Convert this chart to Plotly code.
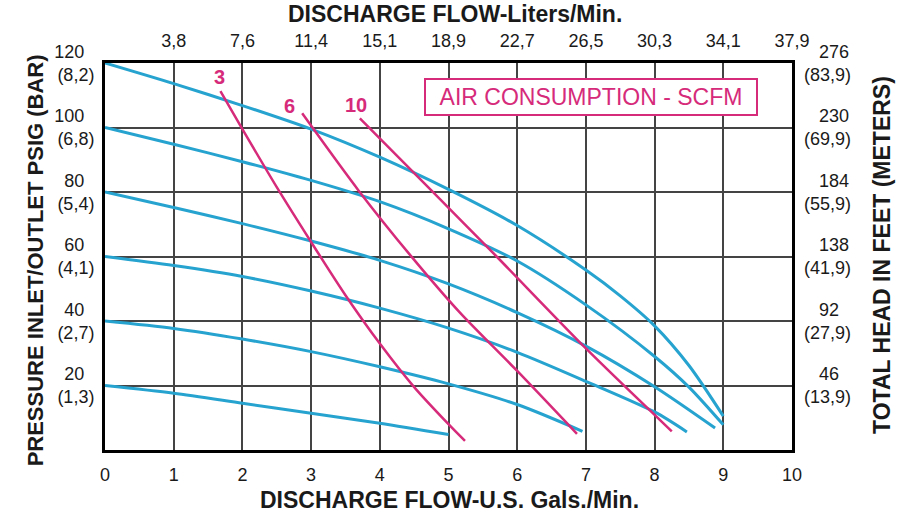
import plotly.graph_objects as go

# pump curves by inlet air pressure (psig): flow in US gal/min vs outlet pressure psig
curve_120_x = [0, 1, 2, 3, 4, 5, 6, 7, 7.5, 8, 8.5, 9.0]
curve_120_y = [120, 113.6, 106.8, 99.5, 90.8, 80.8, 69.6, 55.8, 47.8, 38.5, 26.2, 10.5]
curve_100_x = [0, 1, 2, 3, 4, 5, 6, 7, 8, 8.5, 9.0]
curve_100_y = [100, 94.8, 89.4, 83.6, 77, 68.6, 58.6, 45, 29, 19.5, 7.8]
curve_80_x = [0, 1, 2, 3, 4, 5, 6, 7, 8, 8.88]
curve_80_y = [80, 75.2, 70.2, 64.8, 58.8, 51.5, 42.6, 32.2, 19.6, 6.8]
curve_60_x = [0, 1, 2, 3, 4, 5, 6, 7, 8, 8.47]
curve_60_y = [60, 57.2, 53.8, 49.3, 44, 37.8, 30.3, 21.3, 11.8, 5.6]
curve_40_x = [0, 1, 2, 3, 4, 5, 6, 6.95]
curve_40_y = [40, 37.7, 34.4, 30.5, 25.8, 20.5, 14.1, 5.8]
curve_20_x = [0, 1, 2, 3, 4, 5.0]
curve_20_y = [20, 17.6, 14.5, 11.4, 8.3, 4.8]

# air consumption lines (SCFM)
scfm_3_x = [1.68, 2.0, 2.5, 3.0, 3.5, 4.0, 4.5, 5.0, 5.24]
scfm_3_y = [111.3, 99.5, 81.5, 64.5, 48, 33, 19.5, 8, 2.8]
scfm_6_x = [2.87, 3.69, 4.44, 5.17, 6.0, 6.87]
scfm_6_y = [104.4, 80.5, 60.5, 42.5, 24.5, 5]
scfm_10_x = [3.71, 4.75, 5.7, 7.0, 8.25]
scfm_10_y = [102.8, 80.5, 60, 31.5, 5.8]

gpm_ticks = [0, 1, 2, 3, 4, 5, 6, 7, 8, 9, 10]
lpm_labels = ["3,8", "7,6", "11,4", "15,1", "18,9", "22,7", "26,5", "30,3", "34,1", "37,9"]
psi_ticks = [20, 40, 60, 80, 100, 120]
bar_labels = ["(1,3)", "(2,7)", "(4,1)", "(5,4)", "(6,8)", "(8,2)"]
feet_labels = ["46", "92", "138", "184", "230", "276"]
meter_labels = ["(13,9)", "(27,9)", "(41,9)", "(55,9)", "(69,9)", "(83,9)"]

BLUE = "#27a3d0"
PINK = "#d62a7a"
GRID = "#444444"
INK = "#1a1a1a"
FONT = "Liberation Sans, Arial, sans-serif"
NB = "\u00a0"

fig = go.Figure()

blue_curves = [
    (curve_20_x, curve_20_y),
    (curve_40_x, curve_40_y),
    (curve_60_x, curve_60_y),
    (curve_80_x, curve_80_y),
    (curve_100_x, curve_100_y),
    (curve_120_x, curve_120_y),
]
for cx, cy in blue_curves:
    fig.add_trace(go.Scatter(
        x=cx, y=cy, mode="lines",
        line=dict(color=BLUE, width=3, shape="spline", smoothing=0.8),
        showlegend=False, hoverinfo="skip",
    ))

for cx, cy in [(scfm_3_x, scfm_3_y), (scfm_6_x, scfm_6_y), (scfm_10_x, scfm_10_y)]:
    fig.add_trace(go.Scatter(
        x=cx, y=cy, mode="lines",
        line=dict(color=PINK, width=2.5, shape="spline", smoothing=0.8),
        showlegend=False, hoverinfo="skip",
    ))

# invisible trace so the top and right axes are drawn
fig.add_trace(go.Scatter(x=[0, 10], y=[0, 120], xaxis="x2", yaxis="y2",
                         mode="markers", marker=dict(opacity=0),
                         showlegend=False, hoverinfo="skip"))

# SCFM line labels
for lx, ly, txt in [(1.67, 115.8, "3"), (2.69, 106.8, "6"), (3.66, 107.0, "10")]:
    fig.add_annotation(x=lx, y=ly, text=f"<b>{txt}</b>", showarrow=False,
                       xanchor="center", yanchor="middle",
                       font=dict(family=FONT, size=20, color=PINK))

fig.add_annotation(
    xref="paper", yref="paper", x=0.708, y=0.911, xanchor="center", yanchor="middle",
    text="AIR CONSUMPTION - SCFM", showarrow=False, width=322,
    font=dict(family=FONT, size=23, color=PINK),
    bordercolor=PINK, borderwidth=2, borderpad=4, bgcolor="white",
)

# axis titles
fig.add_annotation(xref="paper", yref="paper", x=0.509, y=1.0, yshift=49,
                   xanchor="center", yanchor="middle",
                   text="<b>DISCHARGE FLOW-Liters/Min.</b>", showarrow=False,
                   font=dict(family=FONT, size=23, color=INK))
fig.add_annotation(xref="paper", yref="paper", x=0.502, y=0.0, yshift=-50,
                   xanchor="center", yanchor="middle",
                   text="<b>DISCHARGE FLOW-U.S. Gals./Min.</b>", showarrow=False,
                   font=dict(family=FONT, size=23, color=INK))
fig.add_annotation(xref="paper", yref="paper", x=0.0, xshift=-70, y=0.49,
                   xanchor="center", yanchor="middle",
                   text="<b>PRESSURE INLET/OUTLET PSIG (BAR)</b>", showarrow=False,
                   textangle=-90, font=dict(family=FONT, size=22, color=INK))
fig.add_annotation(xref="paper", yref="paper", x=1.0, xshift=90, y=0.504,
                   xanchor="center", yanchor="middle",
                   text="<b>TOTAL HEAD IN FEET (METERS)</b>", showarrow=False,
                   textangle=-90, font=dict(family=FONT, size=23, color=INK))

tick_font = dict(family=FONT, size=18, color=INK)

fig.update_layout(
    width=923, height=513,
    margin=dict(l=105, r=131, t=63, b=63),
    plot_bgcolor="white", paper_bgcolor="white",
    xaxis=dict(
        range=[0, 10], tickvals=gpm_ticks, ticktext=[str(v) for v in gpm_ticks],
        showgrid=True, gridcolor=GRID, gridwidth=2,
        showline=True, linecolor="black", linewidth=3, mirror=True,
        zeroline=False, ticks="", ticklabelstandoff=6, tickfont=tick_font,
        automargin=False,
    ),
    yaxis=dict(
        range=[0, 120], tickvals=psi_ticks,
        ticktext=[f"{p}{NB}{NB}<br>{b}" for p, b in zip(psi_ticks, bar_labels)],
        showgrid=True, gridcolor=GRID, gridwidth=2,
        showline=True, linecolor="black", linewidth=3, mirror=True,
        zeroline=False, ticks="", ticklabelstandoff=4, tickfont=tick_font,
        automargin=False,
    ),
    xaxis2=dict(
        overlaying="x", side="top", range=[0, 10], tickvals=gpm_ticks[1:],
        ticktext=lpm_labels, showgrid=False, zeroline=False, showline=False,
        ticks="", ticklabelstandoff=11, tickfont=tick_font, automargin=False,
    ),
    yaxis2=dict(
        overlaying="y", side="right", range=[0, 120], tickvals=psi_ticks,
        ticktext=[f"{NB}{NB}{NB}{f}<br>{m}" for f, m in zip(feet_labels, meter_labels)],
        showgrid=False, zeroline=False, showline=False,
        ticks="", ticklabelstandoff=11, tickfont=tick_font, automargin=False,
    ),
)

# drop the default page margin so the figure fills the window from its corner
fig.write_html("out.html", config={"displayModeBar": False},
               post_script="document.body.style.margin = '0px';")
